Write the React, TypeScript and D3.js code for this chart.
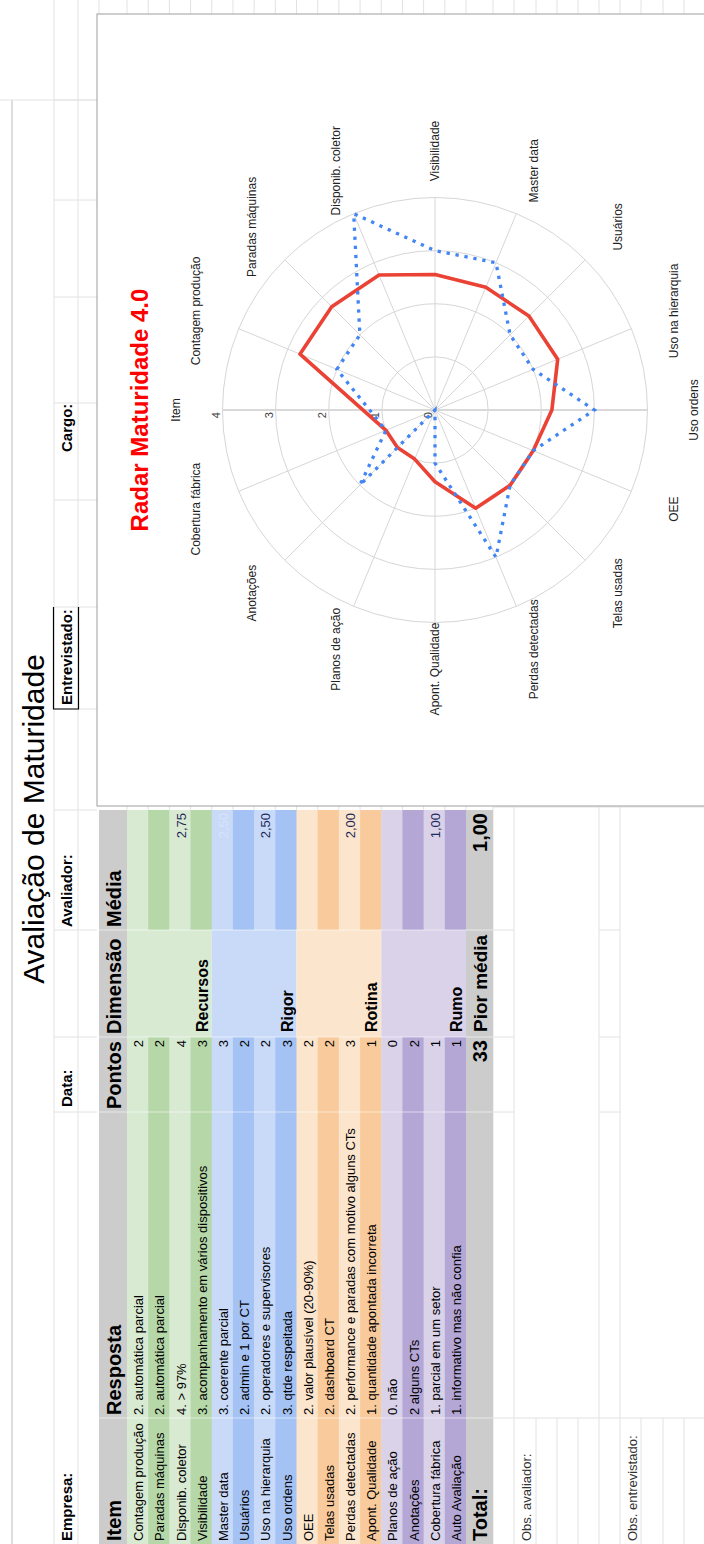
import React from 'react';
import * as d3 from 'd3';

// ---------- DATA ----------
const itens = [
  'Contagem produção', 'Paradas máquinas', 'Disponib. coletor', 'Visibilidade',
  'Master data', 'Usuários', 'Uso na hierarquia', 'Uso ordens',
  'OEE', 'Telas usadas', 'Perdas detectadas', 'Apont. Qualidade',
  'Planos de ação', 'Anotações', 'Cobertura fábrica', 'Auto Avaliação',
];
const respostas = [
  '2. automática parcial', '2. automática parcial', '4. > 97%', '3. acompanhamento em vários dispositivos',
  '3. coerente parcial', '2. admin e 1 por CT', '2. operadores e supervisores', '3. qtde respeitada',
  '2. valor plausível (20-90%)', '2. dashboard CT', '2. performance e paradas com motivo alguns CTs', '1. quantidade apontada incorreta',
  '0. não', '2 alguns CTs', '1. parcial em um setor', '1. informativo mas não confia',
];
const pontos = [2, 2, 4, 3, 3, 2, 2, 3, 2, 2, 3, 1, 0, 2, 1, 1];
const dimensoes = ['Recursos', 'Rigor', 'Rotina', 'Rumo'];
const mediasDimensao = ['2,75', '2,50', '2,00', '1,00'];
const totalPontos = 33;
const piorMedia = '1,00';

const radarCategorias = [
  'Item', 'Contagem produção', 'Paradas máquinas', 'Disponib. coletor', 'Visibilidade',
  'Master data', 'Usuários', 'Uso na hierarquia', 'Uso ordens', 'OEE', 'Telas usadas',
  'Perdas detectadas', 'Apont. Qualidade', 'Planos de ação', 'Anotações', 'Cobertura fábrica',
];
const radarPontos: (number | null)[] = [null, 2, 2, 4, 3, 3, 2, 2, 3, 2, 2, 3, 1, 0, 2, 1];
const radarMedia: (number | null)[] = [null, 2.75, 2.75, 2.75, 2.55, 2.5, 2.5, 2.5, 2.2, 2, 2, 2, 1.35, 1, 1, 1];
const radarTicks = [0, 1, 2, 3, 4];

// ---------- STYLE ----------
const corClara = ['#d9ead3', '#c9daf8', '#fce5cd', '#d9d2e9'];
const corEscura = ['#b6d7a8', '#a4c2f4', '#f9cb9c', '#b4a7d6'];
const cinza = '#cccccc';
const FONT = 'Arial, "Liberation Sans", sans-serif';
const GRID = '#e2e2e2';

export default function App() {
  const W = 1544; // landscape width (image height)
  const colX = [0, 126, 432, 507, 614, 734];
  const rowY = d3.scaleLinear().domain([0, 16]).range([127, 466]);
  const headerTop = 99;
  const totalBottom = 493;

  // radar geometry (landscape frame)
  const cx = 1134, cy = 435;
  const rScale = d3.scaleLinear().domain([0, 4]).range([0, 212.5]);
  const aScale = d3.scaleLinear().domain([0, radarCategorias.length]).range([0, 2 * Math.PI]);
  const labelR = 259;
  const radial = d3.lineRadial<[number, number]>()
    .angle(d => aScale(d[0]))
    .radius(d => rScale(d[1]))
    .curve(d3.curveLinearClosed);
  const pts = (vals: (number | null)[]) =>
    vals.map((v, i) => [i, v] as [number, number | null]).filter(d => d[1] != null) as [number, number][];

  const grp = (i: number) => Math.floor(i / 4);
  const rowColor = (i: number) => (i % 2 === 0 ? corClara[grp(i)] : corEscura[grp(i)]);

  const leftStripCols = [432, 507, 614, 734, 835, 937, 1044, 1141, 1247, 1344, 1444];
  const topStripRows = [99, ...d3.range(17).map(i => rowY(i)), 493, 514, 536, 557, 578, 599, 620, 641, 663, 684];

  return (
    <svg width={704} height={1544} style={{ position: 'absolute', left: 0, top: 0, background: '#fff' }}
      fontFamily={FONT}>
      <g transform={`translate(0,${W}) rotate(-90)`}>
        {/* spreadsheet grid: left strip */}
        <line x1={0} x2={1444} y1={12} y2={12} stroke="#bdbdbd" />
        <line x1={0} x2={1544} y1={54} y2={54} stroke={GRID} />
        <line x1={0} x2={1544} y1={78} y2={78} stroke={GRID} />
        <line x1={1444} x2={1444} y1={0} y2={97} stroke={GRID} />
        {leftStripCols.map(x => (
          <line key={'lc' + x} x1={x} x2={x} y1={54} y2={97} stroke={GRID} />
        ))}
        {/* top strip (beyond chart) */}
        {topStripRows.map((y, i) => (
          <line key={'tr' + i} x1={1530} x2={1544} y1={y} y2={y} stroke={GRID} />
        ))}
        {/* below table */}
        {[493, 514, 599, 620].map(y => (
          <line key={'br' + y} x1={0} x2={737} y1={y} y2={y} stroke={GRID} />
        ))}
        {[536, 557, 578, 641, 663, 684].map(y => (
          <line key={'bi' + y} x1={0} x2={126} y1={y} y2={y} stroke={GRID} />
        ))}
        <line x1={126} x2={126} y1={493} y2={704} stroke={GRID} />
        <line x1={737} x2={737} y1={493} y2={704} stroke={GRID} />
        {[432, 507, 614].map(x => (
          <g key={'bc' + x}>
            <line x1={x} x2={x} y1={493} y2={514} stroke={GRID} />
            <line x1={x} x2={x} y1={599} y2={620} stroke={GRID} />
          </g>
        ))}
        {d3.range(17).map(i => (
          <line key={'gg' + i} x1={734} x2={738} y1={rowY(i)} y2={rowY(i)} stroke={GRID} />
        ))}

        {/* title */}
        <text x={725} y={43.5} fontSize={30} textAnchor="middle" fill="#000">Avaliação de Maturidade</text>

        {/* info row */}
        <text x={3} y={72} fontSize={15} fontWeight="bold">Empresa:</text>
        <text x={437} y={72} fontSize={15} fontWeight="bold">Data:</text>
        <text x={617} y={72} fontSize={15} fontWeight="bold">Avaliador:</text>
        <text x={839} y={72} fontSize={15} fontWeight="bold">Entrevistado:</text>
        <path d={`M937,53.5 H835 V78.5 H937`} fill="none" stroke="#000" strokeWidth={1.2} />
        <text x={1092} y={72} fontSize={15} fontWeight="bold">Cargo:</text>

        {/* header */}
        <rect x={0} y={headerTop} width={734} height={rowY(0) - headerTop} fill={cinza} />
        {['Item', 'Resposta', 'Pontos', 'Dimensão', 'Média'].map((h, i) => (
          <text key={h} x={colX[i] + 3} y={rowY(0) - 6} fontSize={20} fontWeight="bold">{h}</text>
        ))}

        {/* data rows */}
        {itens.map((it, i) => {
          const y0 = rowY(i), y1 = rowY(i + 1);
          const c = rowColor(i);
          return (
            <g key={it}>
              <rect x={colX[0]} y={y0} width={colX[3] - colX[0]} height={y1 - y0 + 0.5} fill={c} />
              <rect x={colX[4]} y={y0} width={colX[5] - colX[4]} height={y1 - y0 + 0.5} fill={c} />
              <text x={colX[0] + 3} y={y1 - 5} fontSize={13}>{it}</text>
              <text x={colX[1] + 3} y={y1 - 5} fontSize={13}>{respostas[i]}</text>
              <text x={colX[3] - 3} y={y1 - 5} fontSize={13} textAnchor="end">{pontos[i]}</text>
            </g>
          );
        })}
        {/* dimension merged cells */}
        {dimensoes.map((d, g) => {
          const y0 = rowY(g * 4), y1 = rowY(g * 4 + 4);
          return (
            <g key={d}>
              <rect x={colX[3]} y={y0} width={colX[4] - colX[3]} height={y1 - y0} fill={corClara[g]} />
              <text x={colX[3] + 5} y={y1 - 4} fontSize={16} fontWeight="bold">{d}</text>
              <text x={colX[5] - 3} y={rowY(g * 4 + 3) - 5} fontSize={13} textAnchor="end" fill="#1f2a5a">
                {mediasDimensao[g]}
              </text>
            </g>
          );
        })}
        {/* faint hidden value */}
        <text x={colX[5] - 3} y={rowY(5) - 5} fontSize={13} textAnchor="end" fill="#d6e3fa">{mediasDimensao[1]}</text>

        {/* total row */}
        <rect x={0} y={rowY(16)} width={734} height={totalBottom - rowY(16)} fill={cinza} />
        <text x={3} y={totalBottom - 6} fontSize={20} fontWeight="bold">Total:</text>
        <text x={colX[3] - 3} y={totalBottom - 6} fontSize={20} fontWeight="bold" textAnchor="end">{totalPontos}</text>
        <text x={colX[3] + 5} y={totalBottom - 6} fontSize={19} fontWeight="bold">Pior média</text>
        <text x={colX[5] - 3} y={totalBottom - 6} fontSize={20} fontWeight="bold" textAnchor="end">{piorMedia}</text>

        {/* table column separators */}
        {colX.slice(1, 5).map(x => (
          <line key={'sep' + x} x1={x} x2={x} y1={headerTop} y2={totalBottom} stroke="#ffffff" strokeOpacity={0.55} />
        ))}

        {/* obs */}
        <text x={3} y={531} fontSize={13} fill="#333">Obs. avaliador:</text>
        <text x={3} y={637} fontSize={13} fill="#333">Obs. entrevistado:</text>

        {/* ---------- chart ---------- */}
        <rect x={738} y={97} width={792} height={640} fill="#fff" stroke="#9e9e9e" />
        <text x={cx} y={148} fontSize={24} fontWeight="bold" fill="#ff0000" textAnchor="middle">Radar Maturidade 4.0</text>

        {radarTicks.slice(1).map(t => (
          <circle key={'ring' + t} cx={cx} cy={cy} r={rScale(t)} fill="none" stroke="#d6d6d6" />
        ))}
        {radarCategorias.map((c, i) => {
          const a = aScale(i);
          return (
            <line key={'spk' + i} x1={cx} y1={cy}
              x2={cx + rScale(4) * Math.sin(a)} y2={cy - rScale(4) * Math.cos(a)}
              stroke="#d6d6d6" />
          );
        })}
        <line x1={cx} x2={cx} y1={cy - rScale(4)} y2={cy + rScale(4)} stroke="#d9d9d9" strokeWidth={2} />
        {radarTicks.map(t => (
          <text key={'tk' + t} x={cx - 2} y={cy - rScale(t) - 3} fontSize={11} fill="#444" textAnchor="end">{t}</text>
        ))}
        {radarCategorias.map((c, i) => {
          const a = aScale(i);
          return (
            <text key={'lab' + i} x={cx + labelR * Math.sin(a)} y={cy - labelR * Math.cos(a)}
              fontSize={12} fill="#222" textAnchor="middle" dominantBaseline="central">{c}</text>
          );
        })}

        <path d={radial(pts(radarMedia)) || ''} transform={`translate(${cx},${cy})`}
          fill="none" stroke="#ea4335" strokeWidth={3.6} strokeLinejoin="round" />
        <path d={radial(pts(radarPontos)) || ''} transform={`translate(${cx},${cy})`}
          fill="none" stroke="#4285f4" strokeWidth={3.3} strokeDasharray="3.3,5.8" />
      </g>
    </svg>
  );
}
